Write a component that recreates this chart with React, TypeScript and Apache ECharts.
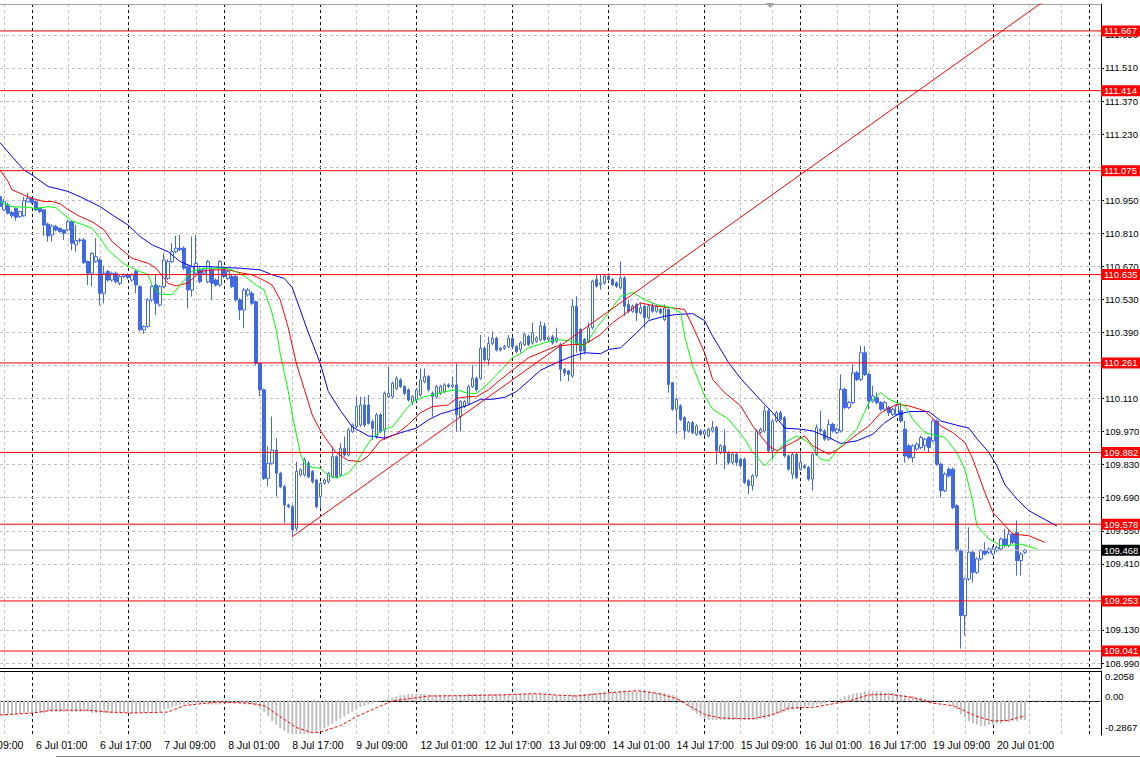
import React, { useEffect, useRef } from "react";
import * as echarts from "echarts";

// ---- time axis: trading sessions (day label, first hour shown) ----
const tradingDays: [string, number][] = [
  ["5 Jul", 16], ["6 Jul", 0], ["7 Jul", 0], ["8 Jul", 0], ["9 Jul", 0],
  ["12 Jul", 0], ["13 Jul", 0], ["14 Jul", 0], ["15 Jul", 0], ["16 Jul", 0],
  ["19 Jul", 0], ["20 Jul", 0], ["21 Jul", 0],
];
const BAR_SLOTS = 276;
const LAST_BAR = 256;
const FIRST_LABEL = 9;
const LABEL_STEP = 16;

// ---- price axis ----
const priceMin = 108.969;
const priceMax = 111.781;
const priceTicks = [108.99, 109.13, 109.27, 109.41, 109.55, 109.69, 109.83, 109.97, 110.11, 110.25,
  110.39, 110.53, 110.67, 110.81, 110.95, 111.09, 111.23, 111.37, 111.51, 111.65];
// tick labels that the level boxes cover
const coveredTicks = [111.09, 110.25, 109.27];
const levelLines = [111.667, 111.414, 111.075, 110.635, 110.261, 109.882, 109.578, 109.253, 109.041];
const bidPrice = 109.468;
const trendPoints: [number, number][] = [[73, 109.525], [270, 111.905]];

// ---- oscillator axis ----
const oscMin = -0.2870;
const oscMax = 0.253;
const oscLabels: [number, string, number][] = [[0.2058, "0.2058", 0], [0, "0.00", -4], [-0.2867, "-0.2867", -7]];

// ---- candles: [open, close, low, high] ----
const candles: number[][] = [
  [110.965,110.923,110.915,110.975],[110.909,110.944,110.905,110.955],[110.930,110.895,110.890,110.940],[110.898,110.884,110.875,110.905],
  [110.916,110.878,110.864,110.920],[110.881,110.902,110.876,110.905],[110.884,110.948,110.880,110.965],[110.944,110.958,110.940,110.982],
  [110.958,110.940,110.935,110.962],[110.944,110.909,110.905,110.950],[110.916,110.902,110.895,110.920],[110.909,110.845,110.799,110.912],
  [110.849,110.799,110.775,110.855],[110.803,110.841,110.775,110.848],[110.838,110.824,110.818,110.845],[110.831,110.817,110.812,110.836],
  [110.824,110.810,110.782,110.828],[110.824,110.859,110.818,110.868],[110.859,110.768,110.737,110.866],[110.761,110.779,110.732,110.845],
  [110.779,110.782,110.770,110.790],[110.782,110.686,110.680,110.790],[110.690,110.641,110.591,110.695],[110.641,110.725,110.584,110.730],
  [110.690,110.711,110.685,110.789],[110.697,110.556,110.506,110.705],[110.556,110.641,110.514,110.672],[110.648,110.612,110.605,110.655],
  [110.612,110.641,110.605,110.648],[110.641,110.605,110.598,110.648],[110.598,110.627,110.591,110.634],[110.627,110.634,110.620,110.641],
  [110.634,110.622,110.615,110.641],[110.612,110.634,110.605,110.641],[110.648,110.591,110.556,110.655],[110.584,110.401,110.395,110.590],
  [110.401,110.415,110.384,110.420],[110.415,110.528,110.410,110.535],[110.528,110.584,110.520,110.590],[110.591,110.514,110.464,110.634],
  [110.506,110.584,110.500,110.590],[110.584,110.697,110.578,110.725],[110.619,110.690,110.612,110.700],[110.690,110.732,110.685,110.768],
  [110.732,110.747,110.725,110.799],[110.747,110.740,110.735,110.803],[110.747,110.662,110.655,110.755],[110.669,110.570,110.492,110.675],
  [110.570,110.669,110.542,110.796],[110.641,110.683,110.634,110.803],[110.655,110.605,110.598,110.665],[110.641,110.655,110.634,110.662],
  [110.605,110.690,110.598,110.697],[110.655,110.598,110.528,110.665],[110.612,110.591,110.584,110.619],[110.591,110.690,110.584,110.697],
  [110.655,110.627,110.620,110.665],[110.619,110.648,110.612,110.655],[110.627,110.584,110.578,110.634],[110.627,110.528,110.520,110.634],
  [110.528,110.485,110.443,110.535],[110.485,110.570,110.408,110.578],[110.549,110.570,110.542,110.578],[110.556,110.514,110.506,110.565],
  [110.520,110.259,110.250,110.525],[110.259,110.147,110.120,110.265],[110.147,109.772,109.765,110.152],[109.772,109.836,109.737,109.907],
  [109.836,109.892,109.830,110.034],[109.892,109.794,109.695,109.942],[109.794,109.737,109.730,109.800],[109.737,109.659,109.582,109.745],
  [109.659,109.652,109.645,109.665],[109.652,109.553,109.525,109.660],[109.561,109.801,109.550,109.843],[109.787,109.808,109.780,109.815],
  [109.787,109.850,109.780,109.860],[109.836,109.779,109.772,109.845],[109.801,109.758,109.750,109.808],[109.765,109.652,109.645,109.770],
  [109.695,109.751,109.645,109.758],[109.751,109.765,109.745,109.772],[109.758,109.794,109.751,109.800],[109.779,109.864,109.772,109.907],
  [109.864,109.779,109.772,109.870],[109.787,109.899,109.780,109.921],[109.899,109.871,109.865,109.949],[109.871,109.977,109.865,109.985],
  [109.970,109.998,109.965,110.005],[109.991,110.076,109.985,110.118],[109.998,110.083,109.990,110.118],[110.083,109.998,109.990,110.118],
  [110.083,110.005,110.000,110.125],[110.012,109.984,109.935,110.020],[109.949,110.041,109.940,110.050],[110.041,109.970,109.963,110.048],
  [109.977,110.132,109.935,110.140],[110.118,110.132,110.110,110.245],[110.118,110.175,110.110,110.182],[110.153,110.196,110.145,110.205],
  [110.189,110.161,110.155,110.196],[110.161,110.132,110.125,110.168],[110.147,110.104,110.097,110.153],[110.097,110.118,110.083,110.125],
  [110.104,110.147,110.097,110.155],[110.125,110.189,110.118,110.238],[110.182,110.203,110.175,110.238],[110.203,110.147,110.140,110.210],
  [110.132,110.118,110.034,110.140],[110.118,110.161,110.110,110.168],[110.132,110.161,110.125,110.168],[110.140,110.168,110.132,110.175],
  [110.168,110.161,110.155,110.175],[110.161,110.168,110.155,110.203],[110.168,110.041,109.970,110.259],[110.034,110.097,109.970,110.104],
  [110.076,110.097,110.070,110.104],[110.090,110.161,110.083,110.168],[110.161,110.196,110.155,110.252],[110.196,110.147,110.140,110.203],
  [110.196,110.323,110.189,110.379],[110.323,110.274,110.265,110.330],[110.274,110.344,110.252,110.372],[110.344,110.365,110.337,110.394],
  [110.365,110.316,110.309,110.372],[110.316,110.323,110.309,110.330],[110.323,110.330,110.316,110.337],[110.330,110.365,110.323,110.379],
  [110.365,110.330,110.323,110.372],[110.330,110.309,110.302,110.337],[110.318,110.346,110.304,110.353],[110.339,110.381,110.332,110.389],
  [110.374,110.339,110.332,110.381],[110.346,110.389,110.339,110.431],[110.353,110.367,110.346,110.374],[110.360,110.417,110.353,110.438],
  [110.417,110.360,110.353,110.431],[110.360,110.367,110.353,110.374],[110.372,110.346,110.339,110.381],[110.353,110.367,110.346,110.410],
  [110.339,110.234,110.184,110.346],[110.234,110.219,110.205,110.240],[110.227,110.212,110.184,110.232],[110.205,110.501,110.198,110.529],
  [110.501,110.339,110.304,110.543],[110.403,110.311,110.276,110.410],[110.360,110.311,110.297,110.367],[110.353,110.410,110.346,110.431],
  [110.410,110.607,110.403,110.614],[110.614,110.586,110.580,110.635],[110.593,110.600,110.572,110.635],[110.600,110.628,110.593,110.635],
  [110.628,110.614,110.607,110.642],[110.614,110.593,110.586,110.621],[110.600,110.586,110.579,110.607],[110.579,110.621,110.572,110.691],
  [110.621,110.501,110.459,110.628],[110.508,110.480,110.473,110.529],[110.480,110.501,110.473,110.508],[110.508,110.473,110.438,110.515],
  [110.473,110.494,110.466,110.515],[110.501,110.452,110.410,110.508],[110.452,110.501,110.445,110.508],[110.501,110.480,110.473,110.515],
  [110.480,110.501,110.473,110.508],[110.487,110.473,110.466,110.494],[110.445,110.494,110.438,110.508],[110.487,110.170,110.135,110.494],
  [110.177,110.065,110.058,110.180],[110.065,110.107,109.959,110.114],[110.079,110.022,110.015,110.086],[110.029,109.973,109.938,110.036],
  [109.973,110.008,109.966,110.015],[110.008,109.966,109.959,110.015],[109.959,109.994,109.952,110.001],[109.973,109.959,109.952,109.980],
  [109.959,109.973,109.952,109.980],[109.952,109.980,109.945,109.987],[109.973,109.987,109.966,110.015],[109.987,109.889,109.832,109.994],
  [109.882,109.910,109.874,109.917],[109.910,109.882,109.811,109.980],[109.882,109.839,109.832,109.889],[109.839,109.874,109.832,109.882],
  [109.874,109.839,109.825,109.882],[109.853,109.825,109.818,109.860],[109.853,109.755,109.748,109.860],[109.762,109.741,109.705,109.769],
  [109.741,109.783,109.720,109.790],[109.783,109.973,109.776,109.980],[109.966,109.980,109.959,109.987],[109.973,110.058,109.966,110.079],
  [110.058,109.889,109.882,110.065],[109.889,110.015,109.853,110.022],[110.015,110.050,110.008,110.058],[110.050,110.022,110.015,110.058],
  [110.029,109.867,109.860,110.036],[109.867,109.811,109.804,109.874],[109.790,109.874,109.769,109.882],[109.874,109.776,109.769,109.882],
  [109.811,109.839,109.804,109.889],[109.825,109.818,109.811,109.832],[109.818,109.769,109.762,109.825],[109.769,109.874,109.720,109.882],
  [109.874,109.987,109.867,110.001],[109.980,109.973,109.966,110.058],[109.973,109.938,109.931,109.980],[109.938,110.001,109.931,110.022],
  [110.001,109.973,109.966,110.008],[109.966,109.980,109.959,109.987],[109.973,110.149,109.966,110.212],[110.149,110.072,110.065,110.156],
  [110.072,110.093,110.065,110.100],[110.093,110.219,110.086,110.255],[110.219,110.191,110.184,110.227],[110.191,110.304,110.184,110.332],
  [110.304,110.212,110.205,110.332],[110.212,110.100,110.065,110.219],[110.100,110.121,110.093,110.163],[110.114,110.093,110.086,110.135],
  [110.093,110.065,110.058,110.100],[110.065,110.093,110.058,110.100],[110.072,110.050,110.036,110.079],[110.043,110.065,110.036,110.072],
  [110.043,110.079,110.036,110.086],[110.058,110.015,110.008,110.093],[109.980,109.867,109.839,110.015],[109.910,109.860,109.853,109.917],
  [109.860,109.910,109.839,109.917],[109.896,109.917,109.889,109.924],[109.903,109.945,109.896,109.952],[109.910,109.938,109.889,109.945],
  [109.945,109.903,109.882,109.952],[109.931,110.015,109.924,110.022],[110.015,109.832,109.825,110.022],[109.832,109.720,109.691,109.839],
  [109.720,109.790,109.713,109.797],[109.811,109.783,109.776,109.818],[109.811,109.649,109.642,109.818],[109.656,109.466,109.459,109.663],
  [109.466,109.191,109.051,109.473],[109.191,109.346,109.107,109.353],[109.346,109.459,109.339,109.565],[109.459,109.374,109.332,109.466],
  [109.374,109.431,109.367,109.438],[109.431,109.466,109.424,109.473],[109.466,109.452,109.445,109.501],[109.459,109.473,109.452,109.480],
  [109.452,109.473,109.445,109.487],[109.466,109.480,109.459,109.487],[109.473,109.515,109.466,109.522],[109.515,109.487,109.480,109.558],
  [109.487,109.536,109.480,109.558],[109.536,109.501,109.494,109.543],[109.543,109.424,109.360,109.593],[109.424,109.452,109.360,109.459],
  [109.459,109.468,109.452,109.473],
];

// ---- Alligator lines: [bar index, price] ----
const jaw: [number, number][] = [
  [0,111.194],[3,111.135],[6,111.078],[8,111.057],[12,111.008],[15,110.996],[17,110.987],[20,110.965],[25,110.923],[28,110.888],
  [32,110.845],[35,110.796],[38,110.761],[42,110.732],[45,110.690],[48,110.669],[52,110.669],[56,110.665],[60,110.662],[65,110.655],
  [68,110.634],[71,110.619],[73,110.580],[75,110.485],[77,110.390],[80,110.259],[82,110.140],[85,110.060],[88,109.990],[92,109.952],
  [96,109.943],[100,109.965],[104,109.985],[107,110.020],[110,110.045],[113,110.060],[117,110.083],[120,110.107],[123,110.107],[126,110.115],
  [129,110.140],[132,110.184],[135,110.230],[139,110.262],[143,110.290],[146,110.304],[150,110.300],[152,110.318],[155,110.325],[159,110.389],
  [162,110.440],[166,110.459],[169,110.466],[173,110.470],[176,110.440],[178,110.374],[182,110.262],[185,110.195],[189,110.121],[193,110.050],
  [196,109.985],[200,109.980],[203,109.973],[207,109.945],[210,109.920],[214,109.931],[218,109.959],[221,110.008],[224,110.041],[227,110.055],
  [232,110.055],[235,110.015],[239,109.997],[242,109.985],[244,109.940],[247,109.882],[249,109.825],[251,109.745],[254,109.684],[257,109.635],
  [260,109.607],[264,109.570],
];
const teeth: [number, number][] = [
  [0,111.078],[2,111.030],[3,110.994],[6,110.972],[8,110.958],[11,110.944],[13,110.945],[15,110.935],[17,110.910],[20,110.881],
  [23,110.859],[26,110.824],[28,110.775],[31,110.732],[33,110.704],[37,110.683],[39,110.662],[42,110.598],[44,110.587],[47,110.600],
  [50,110.648],[53,110.655],[57,110.655],[60,110.643],[63,110.634],[66,110.610],[68,110.590],[70,110.528],[72,110.410],[74,110.260],
  [76,110.150],[78,110.040],[80,109.975],[82,109.925],[84,109.880],[87,109.848],[90,109.843],[92,109.868],[95,109.932],[99,109.960],
  [102,110.000],[105,110.050],[108,110.076],[112,110.083],[114,110.111],[117,110.118],[119,110.118],[122,110.147],[125,110.190],[128,110.230],
  [132,110.283],[136,110.311],[139,110.332],[143,110.339],[146,110.339],[150,110.381],[153,110.431],[157,110.480],[160,110.515],[164,110.501],
  [168,110.494],[171,110.487],[173,110.417],[176,110.304],[178,110.191],[181,110.135],[185,110.079],[188,109.994],[192,109.910],[194,109.889],
  [198,109.924],[201,109.952],[203,109.910],[207,109.874],[210,109.903],[213,109.945],[217,109.994],[220,110.050],[224,110.086],[227,110.079],
  [231,110.058],[235,109.994],[238,109.966],[241,109.924],[243,109.853],[246,109.712],[248,109.628],[251,109.572],[253,109.536],[257,109.529],
  [261,109.501],
];
const lips: [number, number][] = [
  [0,110.944],[3,110.923],[7,110.920],[9,110.915],[12,110.923],[14,110.918],[16,110.888],[18,110.862],[21,110.845],[23,110.831],
  [25,110.790],[27,110.739],[31,110.680],[34,110.655],[37,110.634],[38,110.590],[40,110.552],[43,110.550],[45,110.590],[48,110.650],
  [51,110.662],[56,110.662],[58,110.655],[61,110.630],[64,110.590],[66,110.570],[68,110.470],[69,110.400],[70,110.300],[72,110.140],
  [73,110.040],[75,109.880],[76,109.837],[78,109.818],[80,109.815],[82,109.785],[84,109.773],[87,109.794],[89,109.835],[91,109.895],
  [93,109.945],[96,109.980],[98,109.990],[101,110.055],[103,110.096],[106,110.118],[108,110.125],[111,110.139],[114,110.147],[117,110.132],
  [119,110.132],[122,110.175],[126,110.245],[128,110.283],[130,110.300],[132,110.325],[136,110.346],[139,110.360],[143,110.353],[146,110.332],
  [149,110.410],[152,110.473],[155,110.543],[158,110.560],[161,110.529],[164,110.508],[168,110.494],[170,110.473],[171,110.374],[173,110.248],
  [176,110.121],[178,110.065],[182,110.022],[186,109.938],[188,109.882],[191,109.825],[193,109.860],[196,109.924],[199,109.952],[202,109.924],
  [205,109.853],[207,109.846],[210,109.910],[214,109.980],[217,110.093],[220,110.135],[222,110.107],[226,110.079],[228,110.022],[231,109.966],
  [234,109.952],[236,109.945],[239,109.882],[241,109.811],[243,109.670],[244,109.572],[247,109.515],[250,109.487],[252,109.487],[255,109.494],
  [259,109.473],
];

// ---- oscillator: histogram (hundredths) per bar, signal line [bar, value] ----
const histogram = [
  -11,-11,-11,-11,-11,-11,-10,-10,-10,
  -10,-10,-10,-9,-9,-9,-9,-9,-9,-9,-9,-9,
  -9,-9,-10,-10,-10,-10,-10,-10,-10,-10,-10,-10,-10,-10,-10,-10,-9,-9,-9,-9,
  -7,-6,-5,-4,
  -3,-3,-3,-2,-2,-2,-2,-3,-3,-3,-3,-2,-2,-2,-2,-2,-3,-3,-3,
  -4,-6,-9,
  -13,-17,-20,-23,-25,-27,-28,-28,-28,
  -28,-28,-27,-26,-25,
  -23,-21,-19,-17,-15,-13,-11,-9,-7,-5,
  -4,-3,-2,-1,0,1,
  2,3,4,5,5,6,6,6,6,6,5,5,5,5,5,5,5,5,5,5,6,6,6,6,6,6,6,6,6,6,6,6,6,6,6,6,6,6,
  6,6,5,5,5,5,4,4,5,5,6,6,6,7,7,7,
  7,7,7,7,8,8,8,8,8,8,8,8,7,7,7,7,6,5,
  4,1,-2,-5,-8,-11,-13,-15,
  -16,-16,-16,-16,-16,-16,-16,-16,-16,-16,-16,-16,-16,-15,
  -15,-14,-12,-11,-10,-9,-8,-7,-6,-5,-5,
  -4,-4,-3,-3,-2,-1,0,1,
  2,4,5,6,7,7,8,8,8,8,8,7,7,7,6,
  5,5,4,4,3,3,
  2,1,1,0,0,-1,-2,-4,-7,
  -11,-14,-17,-19,-20,-21,-21,
  -20,-20,-19,-19,-18,-18,-17,-17,-16,-16,
];
const signal: [number, number][] = [
  [0,-0.118],[8,-0.102],[13,-0.078],[22,-0.078],[27,-0.093],[33,-0.102],[42,-0.093],[46,-0.039],[54,-0.009],[62,-0.018],
  [66,-0.039],[70,-0.133],[74,-0.223],[78,-0.268],[80,-0.262],[85,-0.208],[89,-0.133],[94,-0.057],[98,0.0],[107,0.042],
  [116,0.045],[125,0.051],[134,0.062],[139,0.05],[144,0.042],[153,0.072],[159,0.087],[164,0.066],[169,0.021],[172,-0.039],
  [176,-0.114],[180,-0.144],[188,-0.150],[193,-0.114],[197,-0.060],[203,-0.054],[208,-0.024],[212,0.0],[217,0.051],[222,0.057],
  [228,0.030],[233,-0.018],[238,-0.039],[244,-0.130],[248,-0.169],[252,-0.163],[256,-0.124],
];

const FONT = "Liberation Sans, Arial, sans-serif";
const RED = "#ff0000";

function buildCategories() {
  const cats: string[] = [];
  const hours: number[] = [];
  for (const [day, start] of tradingDays) {
    for (let h = start; h < 24 && cats.length < BAR_SLOTS; h++) {
      cats.push(`${day} ${String(h).padStart(2, "0")}:00`);
      hours.push(h);
    }
  }
  return { cats, hours };
}

function levelSeries(value: number, lineColor: string, boxColor: string, z: number) {
  return {
    type: "line", xAxisIndex: 0, yAxisIndex: 0, silent: true, symbol: "none", z, color: lineColor,
    data: [[0, value], [BAR_SLOTS - 1, value]],
    lineStyle: { color: lineColor, width: 1, type: "solid" },
    endLabel: { show: true, formatter: value.toFixed(3), distance: 0, color: "#fff", backgroundColor: boxColor,
      padding: [1, 3, 0, 3], fontSize: 9.5, fontFamily: FONT },
  };
}

function oscLabelSeries(value: number, text: string, dy: number) {
  return {
    type: "line", xAxisIndex: 2, yAxisIndex: 1, silent: true, symbol: "none", z: 1, color: "#c0c0c0", clip: false,
    data: [[0, value], [BAR_SLOTS - 1, value]],
    lineStyle: value === 0 ? { color: "#c0c0c0", width: 1, type: [3, 3] } : { color: "rgba(0,0,0,0)", width: 0 },
    endLabel: { show: true, formatter: text, distance: 4, offset: [0, dy], color: "#000", fontSize: 9.5, fontFamily: FONT },
  };
}

export default function App() {
  const ref = useRef<HTMLDivElement>(null);
  useEffect(() => {
    if (!ref.current) return;
    const chart = echarts.init(ref.current, undefined, { renderer: "svg" });
    const { cats, hours } = buildCategories();
    const grayGrid = (i: number) => hours[i] === 9 || hours[i] === 17;
    const daySep = (i: number) => hours[i] === 0;
    const grayLine = { color: "#c0c0c0", type: [3, 3], width: 1 };
    const blackLine = { color: "#000000", type: [3, 3], width: 1 };
    const hidden = { axisTick: { show: false }, axisLabel: { show: false } };

    const option: any = {
      animation: false,
      backgroundColor: "#ffffff",
      grid: [
        { left: 0, top: 4, width: 1101, height: 664 },
        { left: 0, top: 671, width: 1101, height: 64 },
      ],
      xAxis: [
        { gridIndex: 0, type: "category", data: cats, boundaryGap: false, position: "bottom", ...hidden,
          axisLine: { show: true, lineStyle: { color: "#000" } },
          splitLine: { show: true, interval: grayGrid, lineStyle: grayLine } },
        { gridIndex: 0, type: "category", data: cats, boundaryGap: false, position: "top", ...hidden,
          axisLine: { show: true, lineStyle: { color: "#a0a0a0" } },
          splitLine: { show: true, interval: daySep, lineStyle: blackLine } },
        { gridIndex: 1, type: "category", data: cats, boundaryGap: false, position: "bottom",
          axisLine: { show: true, lineStyle: { color: "#000" } }, axisTick: { show: false },
          axisLabel: { show: true, interval: (i: number) => i >= FIRST_LABEL && i <= LAST_BAR && (i - FIRST_LABEL) % LABEL_STEP === 0,
            align: "left", margin: 4, color: "#000", fontSize: 10.5, fontFamily: FONT },
          splitLine: { show: true, interval: grayGrid, lineStyle: grayLine } },
        { gridIndex: 1, type: "category", data: cats, boundaryGap: false, position: "top", ...hidden,
          axisLine: { show: true, lineStyle: { color: "#000" } },
          splitLine: { show: true, interval: daySep, lineStyle: blackLine } },
      ],
      yAxis: [
        { gridIndex: 0, type: "value", min: priceMin, max: priceMax, position: "right", scale: true,
          axisLine: { show: true, lineStyle: { color: "#000" } }, axisLabel: { show: false },
          axisTick: { show: true, customValues: priceTicks, length: 3, lineStyle: { color: "#000" } }, splitLine: { show: false } },
        { gridIndex: 1, type: "value", min: oscMin, max: oscMax, position: "right", scale: true,
          axisLine: { show: true, lineStyle: { color: "#000" } }, ...hidden, splitLine: { show: false } },
      ],
      series: [
        { type: "line", xAxisIndex: 0, yAxisIndex: 0, data: [], silent: true, clip: false, z: 1, color: "#c0c0c0",
          markLine: { silent: true, symbol: ["none", "none"], z: 1, animation: false,
            lineStyle: grayLine,
            label: { show: true, position: "end", distance: 4, color: "#000", fontSize: 9.5, fontFamily: FONT },
            data: priceTicks.map((v) => ({ yAxis: v, lineStyle: grayLine,
              label: { show: !coveredTicks.includes(v), formatter: v.toFixed(3) } })) } },
        { type: "candlestick", xAxisIndex: 0, yAxisIndex: 0, data: candles, barWidth: 3, z: 3,
          itemStyle: { color: "#ffffff", color0: "#4169e1", borderColor: "#4169e1", borderColor0: "#4169e1", borderWidth: 1 } },
        { type: "line", xAxisIndex: 0, yAxisIndex: 0, data: jaw, symbol: "none", z: 4, color: "#0000ff", lineStyle: { color: "#0000ff", width: 1 } },
        { type: "line", xAxisIndex: 0, yAxisIndex: 0, data: teeth, symbol: "none", z: 4, color: RED, lineStyle: { color: RED, width: 1 } },
        { type: "line", xAxisIndex: 0, yAxisIndex: 0, data: lips, symbol: "none", z: 4, color: "#00ff00", lineStyle: { color: "#00ff00", width: 1 } },
        { type: "line", xAxisIndex: 0, yAxisIndex: 0, data: trendPoints, symbol: "none", z: 5, color: RED, lineStyle: { color: RED, width: 1 } },
        ...levelLines.map((v) => levelSeries(v, RED, RED, 6)),
        levelSeries(bidPrice, "#c0c0c0", "#000000", 7),
        ...oscLabels.map(([v, t, dy]) => oscLabelSeries(v, t, dy)),
        { type: "bar", xAxisIndex: 2, yAxisIndex: 1, data: histogram.map((v) => v / 100), barWidth: 2, z: 2,
          itemStyle: { color: "#c0c0c0" } },
        { type: "line", xAxisIndex: 2, yAxisIndex: 1, data: signal, symbol: "none", z: 3, color: RED,
          lineStyle: { color: RED, width: 1, type: [3, 2] } },
      ],
      graphic: [
        { type: "text", left: -28, top: 739, silent: true,
          style: { text: "5 Jul 09:00", fill: "#000", fontSize: 10.5, fontFamily: FONT } },
        { type: "polygon", silent: true, shape: { points: [[766, 3], [774, 3], [770, 8]] }, style: { fill: "#a0a0a0" } },
        { type: "line", silent: true, shape: { x1: 56, y1: 756.5, x2: 1140, y2: 756.5 }, style: { stroke: "#808080", lineWidth: 1 } },
      ],
    };
    chart.setOption(option);
    return () => chart.dispose();
  }, []);
  return (
    <div ref={ref} style={{ position: "fixed", left: 0, top: 0, width: 1140, height: 758, background: "#fff" }} />
  );
}
